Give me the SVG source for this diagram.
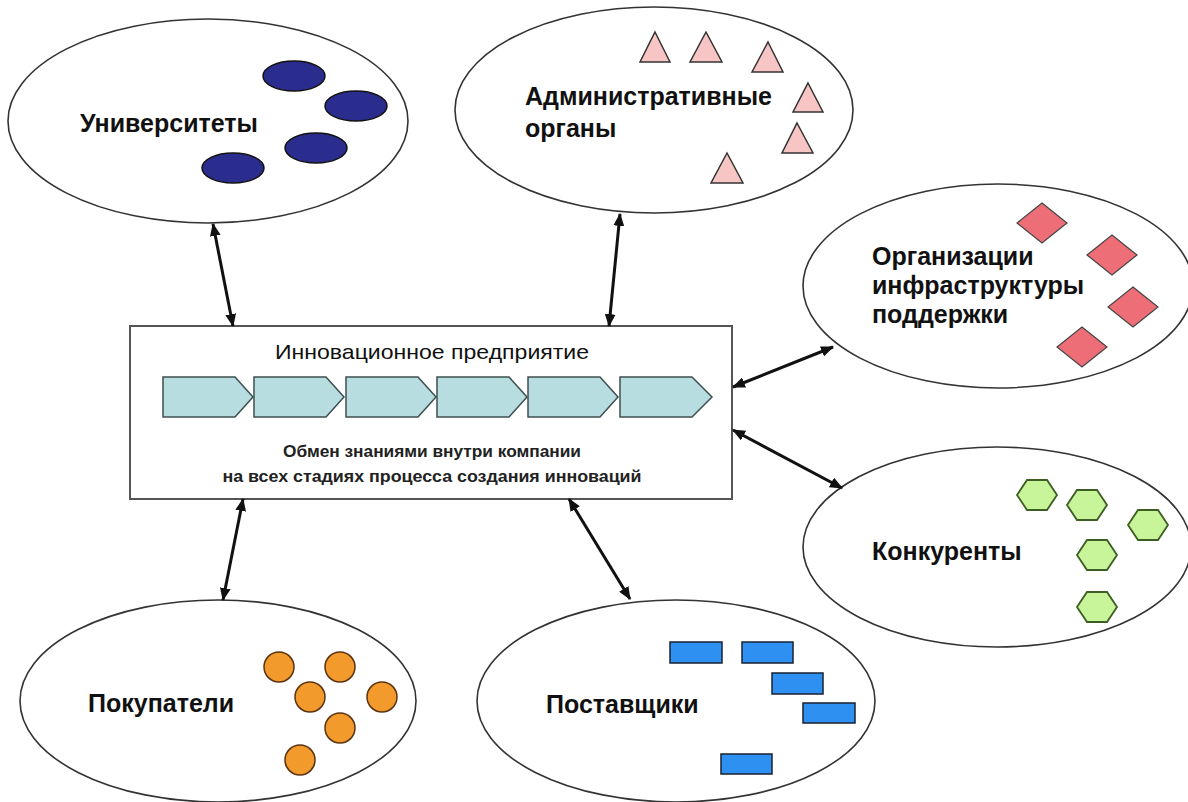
<svg xmlns="http://www.w3.org/2000/svg" width="1188" height="802" viewBox="0 0 1188 802">
<style>
.oval{fill:#fff;stroke:#333;stroke-width:1.6}
.lbl{font-family:"Liberation Sans",Arial,sans-serif;font-weight:bold;font-size:25px;fill:#111}
.uni{fill:#2B2D8E;stroke:#111;stroke-width:1.5}
.tri{fill:#F7C6C4;stroke:#333;stroke-width:1.5}
.dia{fill:#EE6E78;stroke:#444;stroke-width:1.2}
.hex{fill:#C9F59A;stroke:#3C5E22;stroke-width:1.8}
.cir{fill:#F39A2C;stroke:#5A3310;stroke-width:1.5}
.rec{fill:#2E90F0;stroke:#1A2230;stroke-width:1.5}
.chev{fill:#B8DDE0;stroke:#3E4F4F;stroke-width:1.5}
.con{stroke:#111;stroke-width:3;fill:none;marker-start:url(#ah);marker-end:url(#ah)}
.sub{font-family:"Liberation Sans",Arial,sans-serif;font-weight:bold;font-size:16px;fill:#222}
</style>
<defs>
<marker id="ah" viewBox="0 0 12 10" refX="11" refY="5" markerWidth="13" markerHeight="11" markerUnits="userSpaceOnUse" orient="auto-start-reverse">
<path d="M0,0 L12,5 L0,10 z" fill="#111"/>
</marker>
</defs>
<rect width="1188" height="802" fill="#fff"/>

<g id="universities">
<ellipse class="oval" cx="208" cy="121" rx="200" ry="102"/>
<ellipse class="uni" cx="294" cy="76" rx="31" ry="15"/>
<ellipse class="uni" cx="356" cy="106" rx="31" ry="15"/>
<ellipse class="uni" cx="316" cy="148" rx="31" ry="15"/>
<ellipse class="uni" cx="233" cy="168" rx="31" ry="15"/>
<text class="lbl" x="80" y="132">Университеты</text>
</g>

<g id="admin">
<ellipse class="oval" cx="654" cy="110" rx="199" ry="103"/>
<polygon class="tri" points="655,32 670,62 640,62"/>
<polygon class="tri" points="706,32 722,62 690,62"/>
<polygon class="tri" points="768,42 783,72 752,72"/>
<polygon class="tri" points="808,83 823,112 793,112"/>
<polygon class="tri" points="797,123 813,153 782,153"/>
<polygon class="tri" points="727,153 743,183 711,183"/>
<text class="lbl" x="525" y="105">Административные</text>
<text class="lbl" x="525" y="137">органы</text>
</g>

<g id="infrastructure">
<ellipse class="oval" cx="998" cy="286" rx="195" ry="102"/>
<polygon class="dia" points="1042,203 1067,223 1042,243 1017,223"/>
<polygon class="dia" points="1112,235 1137,255 1112,275 1087,255"/>
<polygon class="dia" points="1133,287 1158,307 1133,327 1108,307"/>
<polygon class="dia" points="1082,327 1107,347 1082,367 1057,347"/>
<text class="lbl" x="872" y="265">Организации</text>
<text class="lbl" x="872" y="294">инфраструктуры</text>
<text class="lbl" x="872" y="323">поддержки</text>
</g>

<g id="competitors">
<ellipse class="oval" cx="997" cy="547" rx="194" ry="100"/>
<polygon class="hex" points="1017,495 1027,480 1047,480 1057,495 1047,510 1027,510"/>
<polygon class="hex" points="1067,505 1077,490 1097,490 1107,505 1097,520 1077,520"/>
<polygon class="hex" points="1128,525 1138,510 1158,510 1168,525 1158,540 1138,540"/>
<polygon class="hex" points="1077,555 1087,540 1107,540 1117,555 1107,570 1087,570"/>
<polygon class="hex" points="1077,607 1087,592 1107,592 1117,607 1107,622 1087,622"/>
<text class="lbl" x="872" y="560">Конкуренты</text>
</g>

<g id="buyers">
<ellipse class="oval" cx="218" cy="701" rx="198" ry="101"/>
<circle class="cir" cx="279" cy="667" r="15"/>
<circle class="cir" cx="340" cy="667" r="15"/>
<circle class="cir" cx="310" cy="697" r="15"/>
<circle class="cir" cx="382" cy="697" r="15"/>
<circle class="cir" cx="340" cy="728" r="15"/>
<circle class="cir" cx="300" cy="760" r="15"/>
<text class="lbl" x="88" y="712">Покупатели</text>
</g>

<g id="suppliers">
<ellipse class="oval" cx="676" cy="701" rx="199" ry="101"/>
<rect class="rec" x="670" y="642" width="52" height="21"/>
<rect class="rec" x="742" y="642" width="51" height="21"/>
<rect class="rec" x="772" y="673" width="51" height="21"/>
<rect class="rec" x="803" y="703" width="52" height="20"/>
<rect class="rec" x="721" y="754" width="51" height="20"/>
<text class="lbl" x="546" y="713">Поставщики</text>
</g>

<g id="enterprise">
<rect x="130" y="326" width="602" height="173" fill="#fff" stroke="#555" stroke-width="2"/>
<text x="432" y="359" text-anchor="middle" font-family="Liberation Sans, Arial, sans-serif" font-size="21" fill="#111" textLength="314" lengthAdjust="spacingAndGlyphs">Инновационное предприятие</text>
<polygon class="chev" points="163,377 235,377 253,397 235,417 163,417"/>
<polygon class="chev" points="254,377 326,377 344,397 326,417 254,417"/>
<polygon class="chev" points="346,377 418,377 436,397 418,417 346,417"/>
<polygon class="chev" points="437,377 509,377 527,397 509,417 437,417"/>
<polygon class="chev" points="528,377 600,377 618,397 600,417 528,417"/>
<polygon class="chev" points="620,377 692,377 712,397 692,417 620,417"/>
<text class="sub" x="432" y="457" text-anchor="middle" textLength="298" lengthAdjust="spacingAndGlyphs">Обмен знаниями внутри компании</text>
<text class="sub" x="432" y="482" text-anchor="middle" textLength="419" lengthAdjust="spacingAndGlyphs">на всех стадиях процесса создания инноваций</text>
</g>

<g id="connectors">
<line class="con" x1="213" y1="224" x2="233" y2="326"/>
<line class="con" x1="620" y1="214" x2="609" y2="326"/>
<line class="con" x1="733" y1="387" x2="833" y2="347"/>
<line class="con" x1="733" y1="430" x2="842" y2="488"/>
<line class="con" x1="243" y1="499" x2="223" y2="600"/>
<line class="con" x1="569" y1="499" x2="630" y2="599"/>
</g>
</svg>
